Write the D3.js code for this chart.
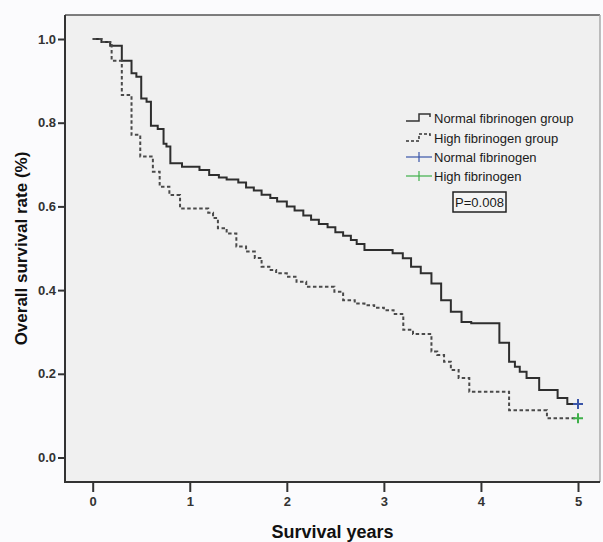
<!DOCTYPE html>
<html>
<head>
<meta charset="utf-8">
<script src="https://cdn.jsdelivr.net/npm/d3@7"></script>
<style>
  html, body { margin: 0; padding: 0; background: #fbfbfd; }
  svg { display: block; font-family: "Liberation Sans", Arial, sans-serif; }
</style>
</head>
<body>
<svg id="chart" width="603" height="542"></svg>
<script>
// Kaplan-Meier steps (years, survival)
var normalTimes = [0, 0.09, 0.18, 0.30, 0.40, 0.45, 0.50, 0.555, 0.60, 0.67, 0.73, 0.76, 0.80, 0.92, 1.10, 1.20,
    1.30, 1.38, 1.50, 1.58, 1.66, 1.74, 1.83, 1.90, 2.00, 2.08, 2.17, 2.25, 2.33, 2.42, 2.50, 2.58, 2.66, 2.72,
    2.80, 3.09, 3.195, 3.28, 3.38, 3.49, 3.59, 3.69, 3.80, 3.90, 4.19, 4.29, 4.35, 4.40, 4.47, 4.60, 4.79, 4.89, 5.0];
var normalSurv = [1.0, 0.993, 0.984, 0.948, 0.918, 0.91, 0.858, 0.85, 0.793, 0.785, 0.75, 0.743, 0.703, 0.695, 0.687, 0.675,
    0.669, 0.664, 0.657, 0.645, 0.638, 0.628, 0.62, 0.612, 0.600, 0.59, 0.578, 0.568, 0.558, 0.55, 0.538, 0.53, 0.52, 0.51,
    0.496, 0.488, 0.476, 0.456, 0.44, 0.416, 0.376, 0.348, 0.324, 0.321, 0.274, 0.229, 0.217, 0.205, 0.19, 0.161, 0.142, 0.128, 0.128];
var highTimes = [0, 0.09, 0.195, 0.30, 0.40, 0.49, 0.62, 0.69, 0.79, 0.90, 1.19, 1.24, 1.29, 1.38, 1.48, 1.58, 1.67,
    1.74, 1.82, 1.89, 2.00, 2.10, 2.20, 2.49, 2.58, 2.70, 2.80, 2.90, 3.00, 3.10, 3.20, 3.30, 3.49, 3.55, 3.62, 3.69,
    3.77, 3.88, 4.29, 4.68, 5.0];
var highSurv = [1.0, 0.993, 0.948, 0.866, 0.771, 0.719, 0.683, 0.647, 0.627, 0.595, 0.585, 0.572, 0.548, 0.535, 0.504, 0.492, 0.477,
    0.456, 0.448, 0.44, 0.432, 0.42, 0.408, 0.396, 0.376, 0.368, 0.364, 0.358, 0.352, 0.343, 0.305, 0.295, 0.253, 0.245, 0.229, 0.209,
    0.19, 0.157, 0.113, 0.094, 0.094];

var xTicks = [0, 1, 2, 3, 4, 5];
var yTicks = [0.0, 0.2, 0.4, 0.6, 0.8, 1.0];
var legendLabels = ["Normal fibrinogen group", "High fibrinogen group", "Normal fibrinogen", "High fibrinogen"];
var pValueLabel = "P=0.008";

var g_box = { left: 65, top: 15, right: 600, bottom: 482 };
var g_col = { line: "#333", censorNormal: "#3a55a8", censorHigh: "#3fb04a", plot: "#f0f0f0" };

draw_chart();

function draw_chart() {
    var svg = d3.select("#chart");
    var x = d3.scaleLinear().domain([0, 5]).range([92.7, 578]); // years to pixel
    var y = d3.scaleLinear().domain([0, 1]).range([457.5, 39]); // survival to pixel

    // plot area
    svg.append("rect")
        .attr("x", g_box.left).attr("y", g_box.top)
        .attr("width", g_box.right - g_box.left).attr("height", g_box.bottom - g_box.top)
        .attr("fill", g_col.plot);
    svg.append("line").attr("x1", g_box.left).attr("x2", g_box.right).attr("y1", g_box.top).attr("y2", g_box.top)
        .attr("style", "stroke:#555; stroke-width:1.5");
    svg.append("line").attr("x1", g_box.right).attr("x2", g_box.right).attr("y1", g_box.top).attr("y2", g_box.bottom)
        .attr("style", "stroke:#aaa; stroke-width:1.5");

    // axes
    var gy = svg.append("g").attr("transform", "translate(" + g_box.left + ",0)")
        .call(d3.axisLeft(y).tickValues(yTicks).tickFormat(d3.format(".1f")).tickSize(7).tickPadding(2));
    var gx = svg.append("g").attr("transform", "translate(0," + g_box.bottom + ")")
        .call(d3.axisBottom(x).tickValues(xTicks).tickFormat(d3.format("d")).tickSize(10).tickPadding(5));
    [gx, gy].forEach(function (g) {
        g.select(".domain").remove();
        g.selectAll(".tick line").attr("stroke", g_col.line).attr("stroke-width", 2);
        g.selectAll(".tick text").attr("fill", "#333").attr("font-size", 13).attr("font-weight", "bold")
            .attr("font-family", "Liberation Sans, Arial, sans-serif");
    });
    svg.append("path")
        .attr("d", "M" + g_box.left + "," + g_box.top + "V" + g_box.bottom + "H" + g_box.right)
        .attr("style", "fill:none; stroke:#333; stroke-width:2");

    // axis titles
    svg.append("text").text("Survival years")
        .attr("x", (g_box.left + g_box.right) / 2).attr("y", 538)
        .attr("text-anchor", "middle").attr("font-size", 18).attr("font-weight", "bold").attr("fill", "#111");
    svg.append("text").text("Overall survival rate (%)")
        .attr("transform", "translate(27," + (g_box.top + g_box.bottom) / 2 + ") rotate(-90)")
        .attr("text-anchor", "middle").attr("font-size", 17).attr("font-weight", "bold").attr("fill", "#111");

    // survival curves
    var line = d3.line().curve(d3.curveStepAfter).x(d => x(d[0])).y(d => y(d[1]));
    var normal = d3.zip(normalTimes, normalSurv);
    var high = d3.zip(highTimes, highSurv);
    svg.append("path").datum(normal).attr("d", line)
        .attr("style", "fill:none; stroke:#2e2e2e; stroke-width:2");
    svg.append("path").datum(high).attr("d", line)
        .attr("stroke-dasharray", "3.5 2.5")
        .attr("style", "fill:none; stroke:#4a4a4a; stroke-width:2");

    // censor marks at the end
    draw_cross(svg, x(5), y(normalSurv[normalSurv.length - 1]), 5, g_col.censorNormal, 2);
    draw_cross(svg, x(5), y(highSurv[highSurv.length - 1]), 5, g_col.censorHigh, 2);

    // legend
    var lx = 406, rows = [118, 138, 157, 176];
    var lg = svg.append("g");
    lg.selectAll("text").data(legendLabels).join("text")
        .attr("x", lx + 28).attr("y", (d, i) => rows[i]).attr("dy", "0.35em")
        .attr("font-size", 13).attr("fill", "#1a1a1a").text(d => d);
    [0, 1].forEach(function (i) {
        var yy = rows[i];
        lg.append("path")
            .attr("d", "M" + lx + "," + (yy + 3) + "H" + (lx + 13) + "V" + (yy - 4) + "H" + (lx + 24) + "V" + (yy - 1))
            .attr("stroke-dasharray", i == 1 ? "3 2" : null)
            .attr("style", "fill:none; stroke:#333; stroke-width:1.5");
    });
    [[2, g_col.censorNormal], [3, g_col.censorHigh]].forEach(function (d) {
        var yy = rows[d[0]];
        lg.append("line").attr("x1", lx).attr("x2", lx + 26).attr("y1", yy).attr("y2", yy)
            .attr("style", "stroke:" + d[1] + "; stroke-width:1.2");
        lg.append("line").attr("x1", lx + 13).attr("x2", lx + 13).attr("y1", yy - 5).attr("y2", yy + 5)
            .attr("style", "stroke:" + d[1] + "; stroke-width:1.2");
    });

    // p value box
    svg.append("rect").attr("x", 453).attr("y", 192).attr("width", 53).attr("height", 20)
        .attr("style", "fill:#f4f4f4; stroke:#222; stroke-width:1.5");
    svg.append("text").text(pValueLabel).attr("x", 479.5).attr("y", 202).attr("dy", "0.35em")
        .attr("text-anchor", "middle").attr("font-size", 13).attr("fill", "#1a1a1a");
}

function draw_cross(svg, cx, cy, r, color, w) {
    svg.append("path").attr("d", "M" + (cx - r) + "," + cy + "H" + (cx + r) + "M" + cx + "," + (cy - r) + "V" + (cy + r))
        .attr("style", "fill:none; stroke:" + color + "; stroke-width:" + w);
}
</script>
</body>
</html>
